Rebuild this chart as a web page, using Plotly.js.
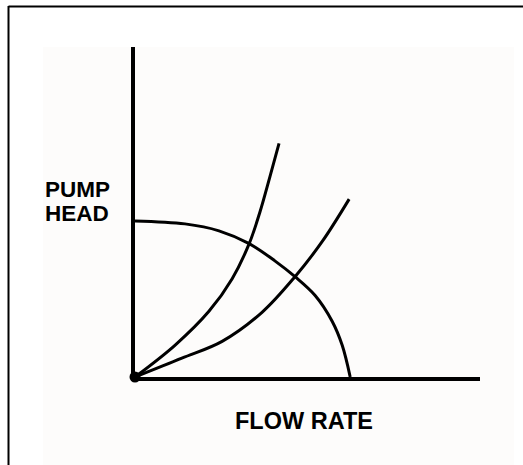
<!DOCTYPE html>
<html>
<head>
<meta charset="utf-8">
<script src="https://cdn.plot.ly/plotly-3.0.1.min.js"></script>
<style>html,body{margin:0;padding:0;background:#fff;}#chart{width:523px;height:465px;}</style>
</head>
<body>
<div id="chart"></div>
<script>
// Pump curve (flow, head)
const pumpFlow = [0, 1.44, 2.42, 3.29, 4.03, 4.61, 5.19, 5.68, 5.97, 6.20];
const pumpHead = [4.73, 4.64, 4.43, 4.04, 3.52, 3.04, 2.47, 1.69, 0.96, 0];
// Steep system curve
const sysAFlow = [0, 1.15, 2.13, 2.80, 3.29, 3.60, 3.89, 4.15];
const sysAHead = [0, 0.96, 1.99, 2.98, 4.04, 5.00, 6.08, 7.08];
// Shallow system curve
const sysBFlow = [0, 1.35, 2.51, 3.66, 4.61, 5.39, 6.17];
const sysBHead = [0, 0.57, 1.08, 1.96, 3.04, 4.10, 5.39];
// Origin point
const originFlow = [0];
const originHead = [0];
const xLabel = "FLOW RATE";
const yLabelLines = ["PUMP", "HEAD"];

const lineStyle = {color: '#000', width: 3, shape: 'spline', smoothing: 1};
const traces = [
  {x: pumpFlow, y: pumpHead, mode: 'lines', line: lineStyle, cliponaxis: false, hoverinfo: 'skip'},
  {x: sysAFlow, y: sysAHead, mode: 'lines', line: lineStyle, cliponaxis: false, hoverinfo: 'skip'},
  {x: sysBFlow, y: sysBHead, mode: 'lines', line: lineStyle, cliponaxis: false, hoverinfo: 'skip'},
  {x: originFlow, y: originHead, mode: 'markers', marker: {color: '#000', size: 11}, cliponaxis: false, hoverinfo: 'skip'}
];

const W = 523, H = 465;
const L = 135, R = 43, T = 47, B = 88;
const pw = W - L - R, ph = H - T - B;
const px = v => (v - L) / pw;          // page pixel -> paper x
const py = v => (H - B - v) / ph;      // page pixel -> paper y

const font = {family: 'Liberation Sans, Arial, sans-serif', color: '#000', size: 22.5, weight: 'bold'};

const layout = {
  width: W, height: H,
  margin: {l: L, r: R, t: T, b: B, pad: 0},
  paper_bgcolor: '#ffffff',
  plot_bgcolor: 'rgba(0,0,0,0)',
  showlegend: false,
  xaxis: {range: [0, 9.94], showline: true, linecolor: '#000', linewidth: 4, showgrid: false, zeroline: false, showticklabels: false, ticks: '', fixedrange: true},
  yaxis: {range: [0, 10], showline: true, linecolor: '#000', linewidth: 4, showgrid: false, zeroline: false, showticklabels: false, ticks: '', fixedrange: true},
  shapes: [
    {type: 'rect', xref: 'paper', yref: 'paper', x0: px(43), x1: px(514), y0: py(470), y1: py(47), fillcolor: '#fdfcfb', line: {width: 0}, layer: 'below'},
    {type: 'line', xref: 'paper', yref: 'paper', x0: px(8.5), x1: px(8.5), y0: py(6), y1: py(470), line: {color: '#000', width: 2}},
    {type: 'line', xref: 'paper', yref: 'paper', x0: px(8.5), x1: px(530), y0: py(6.5), y1: py(6.5), line: {color: '#000', width: 2}}
  ],
  annotations: [
    {xref: 'paper', yref: 'paper', x: px(43), y: py(189), xanchor: 'left', yanchor: 'middle', text: yLabelLines[0], showarrow: false, font: font},
    {xref: 'paper', yref: 'paper', x: px(43), y: py(213.5), xanchor: 'left', yanchor: 'middle', text: yLabelLines[1], showarrow: false, font: font},
    {xref: 'paper', yref: 'paper', x: px(304), y: py(420.5), xanchor: 'center', yanchor: 'middle', text: xLabel, showarrow: false, font: Object.assign({}, font, {size: 23.5})}
  ]
};

Plotly.newPlot('chart', traces, layout, {displayModeBar: false, staticPlot: true});
</script>
</body>
</html>
